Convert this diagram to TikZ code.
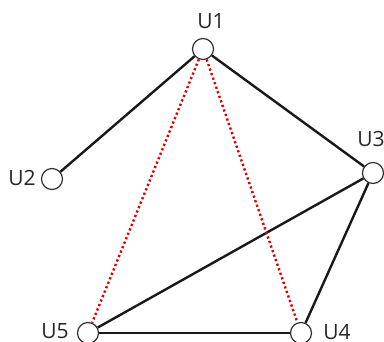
\documentclass[tikz,border=0pt]{standalone}
\usepackage{fontspec}
\setmainfont{Open Sans}
\begin{document}
\begin{tikzpicture}[x=1pt,y=-1pt,
  vert/.style={circle,draw=black!80,line width=1.2pt,fill=white,minimum size=21pt,inner sep=0pt},
  lbl/.style={font=\fontsize{21}{24}\selectfont,inner sep=0pt,text=black!85},
  solidedge/.style={line width=2.4pt,black!90},
  rededge/.style={line width=2.4pt,red!85!black,dash pattern=on 2.2pt off 2.6pt}]
\useasboundingbox (0,0) rectangle (384,342);
\node[vert] (u1) at (203,49) {};
\node[vert] (u2) at (52,179) {};
\node[vert] (u3) at (373,173) {};
\node[vert] (u5) at (88,333) {};
\node[vert] (u4) at (301,333) {};
\node[lbl] (l1) at (211,21) {U1};
\node[lbl] (l2) at (22,178) {U2};
\node[lbl] (l3) at (371,139) {U3};
\node[lbl] (l5) at (55,331) {U5};
\node[lbl] (l4) at (337,332) {U4};
\draw[solidedge] (u1) -- (u2);
\draw[solidedge] (u1) -- (u3);
\draw[solidedge] (u3) -- (u5);
\draw[solidedge] (u3) -- (u4);
\draw[solidedge] (u5) -- (u4);
\draw[rededge] (u1) -- (u5);
\draw[rededge] (u1) -- (u4);
\end{tikzpicture}
\end{document}
